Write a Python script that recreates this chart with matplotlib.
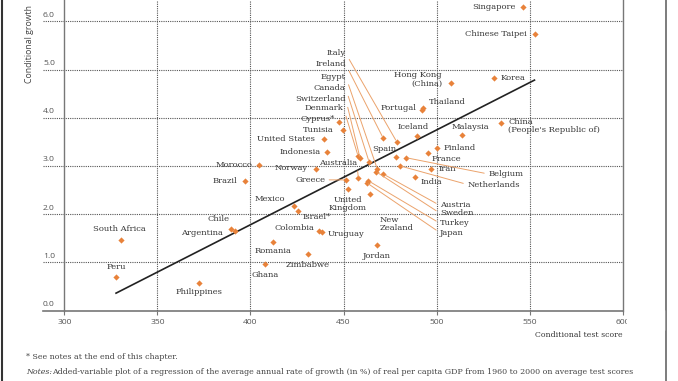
import numpy as np
import matplotlib.pyplot as plt
from matplotlib.lines import Line2D
from matplotlib.patches import Rectangle
import matplotlib.transforms as mtransforms

# data
countries = ["Singapore", "Chinese Taipei", "Korea", "Hong Kong\n(China)", "Thailand", "Portugal",
             "China\n(People's Republic of)", "Malaysia", "Iceland", "Cyprus*", "Tunisia",
             "United States", "Indonesia", "Morocco", "Brazil", "Norway", "Greece", "Australia",
             "Mexico", "Israel*", "United\nKingdom", "New\nZealand", "Colombia", "Uruguay",
             "Romania", "Zimbabwe", "Ghana", "Jordan", "Chile", "Argentina", "South Africa",
             "Peru", "Philippines", "Spain", "Finland", "France", "Iran", "India",
             "Italy", "Ireland", "Egypt", "Canada", "Switzerland", "Denmark",
             "Belgium", "Netherlands", "Austria", "Sweden", "Turkey", "Japan"]
test_score = [546.3, 552.8, 531.1, 507.8, 492.9, 492.0,
              534.7, 513.7, 489.7, 447.6, 449.8,
              439.5, 441.3, 404.6, 397.1, 435.2, 451.2, 458.0,
              423.4, 425.7, 452.3, 464.3, 437.1, 438.3,
              412.3, 430.8, 407.8, 467.9, 389.6, 391.7, 330.3,
              327.8, 372.5, 478.1, 500.1, 495.3, 496.9, 488.4,
              478.6, 471.4, 468.2, 463.7, 458.9, 457.8,
              483.6, 480.4, 471.4, 467.5, 463.4, 462.5]
growth = [6.30, 5.73, 4.82, 4.71, 4.21, 4.17,
          3.88, 3.65, 3.63, 3.92, 3.74,
          3.56, 3.28, 3.02, 2.69, 2.93, 2.71, 2.74,
          2.17, 2.07, 2.52, 2.42, 1.65, 1.62,
          1.43, 1.17, 0.96, 1.36, 1.70, 1.65, 1.46,
          0.69, 0.58, 3.19, 3.37, 3.26, 2.93, 2.76,
          3.50, 3.57, 2.93, 3.09, 3.16, 3.21,
          3.17, 3.00, 2.83, 2.88, 2.69, 2.65]

fit_x = [327.8, 552.6]
fit_y = [0.36, 4.78]

x_ticks = [300, 350, 400, 450, 500, 550, 600]
y_ticks = [0.0, 1.0, 2.0, 3.0, 4.0, 5.0, 6.0]

# label placement: offset in pixels from the marker, alignment, leader line
label_pos = {
    "Singapore": (-7, 0, "right", False),
    "Chinese Taipei": (-8, 0, "right", False),
    "Korea": (6, 0, "left", False),
    "Hong Kong\n(China)": (-9, 4, "right", False),
    "Thailand": (6, 6, "left", False),
    "Portugal": (-5, 1.5, "right", False),
    "China\n(People's Republic of)": (7, -2.5, "left", False),
    "Malaysia": (8.7, 8, "center", False),
    "Iceland": (-4.6, 8.4, "center", False),
    "Cyprus*": (-4, 3, "right", False),
    "Tunisia": (-9, 0.7, "right", False),
    "United States": (-9, 0, "right", False),
    "Indonesia": (-6.7, 0.6, "right", False),
    "Morocco": (-7, 0, "right", False),
    "Brazil": (-8, 0, "right", False),
    "Norway": (-8, 1.7, "right", False),
    "Greece": (-20.7, 0, "right", True),
    "Australia": (-1.6, 15.6, "right", True),
    "Mexico": (-9, 7, "right", False),
    "Israel*": (4.4, -6, "left", False),
    "United\nKingdom": (0, -15, "center", False),
    "New\nZealand": (9.3, -30, "left", False),
    "Colombia": (-5, 3, "right", False),
    "Uruguay": (6, -2, "left", False),
    "Romania": (0, -9, "center", False),
    "Zimbabwe": (0, -10.4, "center", False),
    "Ghana": (0, -11, "center", False),
    "Jordan": (0, -11, "center", False),
    "Chile": (-1.7, 9.5, "right", False),
    "Argentina": (-11.7, -1.7, "right", False),
    "South Africa": (-1, 11, "center", False),
    "Peru": (0, 10.6, "center", False),
    "Philippines": (0, -9.6, "center", False),
    "Spain": (1, 7.4, "right", False),
    "Finland": (6.6, 0, "left", False),
    "France": (4, -6, "left", False),
    "Iran": (7.6, 0, "left", False),
    "India": (5.3, -5, "left", False),
    "Italy": (-51, 88.4, "right", True),
    "Ireland": (-37.6, 74, "right", True),
    "Egypt": (-31.6, 92.6, "right", True),
    "Canada": (-23.3, 73.4, "right", True),
    "Switzerland": (-14.3, 59, "right", True),
    "Denmark": (-14.5, 47.7, "right", True),
    "Belgium": (82.3, -16.3, "left", True),
    "Netherlands": (67.3, -18.6, "left", True),
    "Austria": (56.7, -31.4, "left", True),
    "Sweden": (64, -41.6, "left", True),
    "Turkey": (71.7, -42.6, "left", True),
    "Japan": (73.3, -50, "left", True),
}

orange = "#e8823a"
leader = "#eba36c"
txt = "#363636"
W, H = 678, 381

fig = plt.figure(figsize=(6.78, 3.81), dpi=100)
ax = fig.add_axes([64.3 / W, (H - 310.5) / H, 558.4 / W, 310.5 / H])
ax.set_xlim(300, 600)
ax.set_ylim(0, 6.442)

for s in ["top", "bottom"]:
    ax.spines[s].set_visible(False)
for s in ["left", "right"]:
    ax.spines[s].set_color("#777777")
    ax.spines[s].set_linewidth(1.0)

ext = -21.3 / 558.4
for yv in y_ticks[1:]:
    ax.axhline(yv, xmin=ext, xmax=1, color="#555555", lw=0.8, ls=(0, (1, 1)), clip_on=False, zorder=1)
ax.axhline(0, xmin=ext, xmax=1, color="#777777", lw=1.2, clip_on=False, zorder=1)
for xv in x_ticks[1:-1]:
    ax.axvline(xv, color="#555555", lw=0.8, ls=(0, (1, 1)), zorder=1)

ax.set_xticks(x_ticks)
ax.set_xticklabels([str(v) for v in x_ticks], family="Open Sans", fontsize=6.1, color="#555555")
ax.tick_params(axis="x", length=3, width=0.8, color="#777777", pad=3)
ax.set_yticks([])

trans = mtransforms.blended_transform_factory(ax.transAxes, ax.transData)
for yv in y_ticks:
    ax.text(ext, yv + 0.05, f"{yv:.1f}", transform=trans, ha="left", va="bottom",
            family="Open Sans", fontsize=6.1, color="#555555")

ax.plot(fit_x, fit_y, color="#222222", lw=1.2, zorder=3)
ax.scatter(test_score, growth, marker="D", s=10, color=orange, lw=0, zorder=4)

for name, xv, yv in zip(countries, test_score, growth):
    dx, dy, ha, lead = label_pos[name]
    props = None
    if lead:
        rel = (1, 0.5) if ha == "right" else (0, 0.5)
        props = dict(arrowstyle="-", color=leader, lw=0.7, shrinkA=1, shrinkB=1.5, relpos=rel)
    ax.annotate(name, (xv, yv), xytext=(dx, dy), textcoords="offset pixels",
                ha=ha, va="center", multialignment=ha if ha != "center" else "center",
                family="DejaVu Serif", fontsize=6, color=txt, linespacing=1.0,
                arrowprops=props, zorder=5)

fig.text(30 / W, 1 - 83 / H, "Conditional growth", rotation=90, ha="center", va="bottom",
         family="Open Sans", fontsize=6.3, color="#444444")
fig.text(622.7 / W, 1 - 335 / H, "Conditional test score", ha="right", va="center",
         family="DejaVu Serif", fontsize=5.6, color=txt)

foot = dict(family="DejaVu Serif", fontsize=5.65, color="#444444", ha="left", va="center")
fig.text(26 / W, 1 - 356.7 / H, "* See notes at the end of this chapter.", **foot)
fig.text(26 / W, 1 - 371.7 / H, "Notes:", style="italic", **foot)
fig.text(52 / W, 1 - 371.7 / H,
         "Added-variable plot of a regression of the average annual rate of growth (in %) of real per capita GDP from 1960 to 2000 on average test scores",
         **foot)
fig.text(26 / W, 1 - 386 / H,
         "on international student achievement tests, per capita GDP in 1960 and average years of schooling in 1960, for a sample of conditional",
         **foot)

# page edge cropping seen in the screenshot (clips the last tick label)
fig.patches.append(Rectangle((627 / W, 1 - 330 / H), 37 / W, 20 / H, transform=fig.transFigure,
                             color="white", zorder=10))
fig.lines.append(Line2D([1.5 / W, 1.5 / W], [0, 1], transform=fig.transFigure, color="#333333", lw=1.5))
fig.lines.append(Line2D([665.5 / W, 665.5 / W], [0, 1], transform=fig.transFigure, color="#666666", lw=1.2))

fig.savefig("out.png", dpi=100)
